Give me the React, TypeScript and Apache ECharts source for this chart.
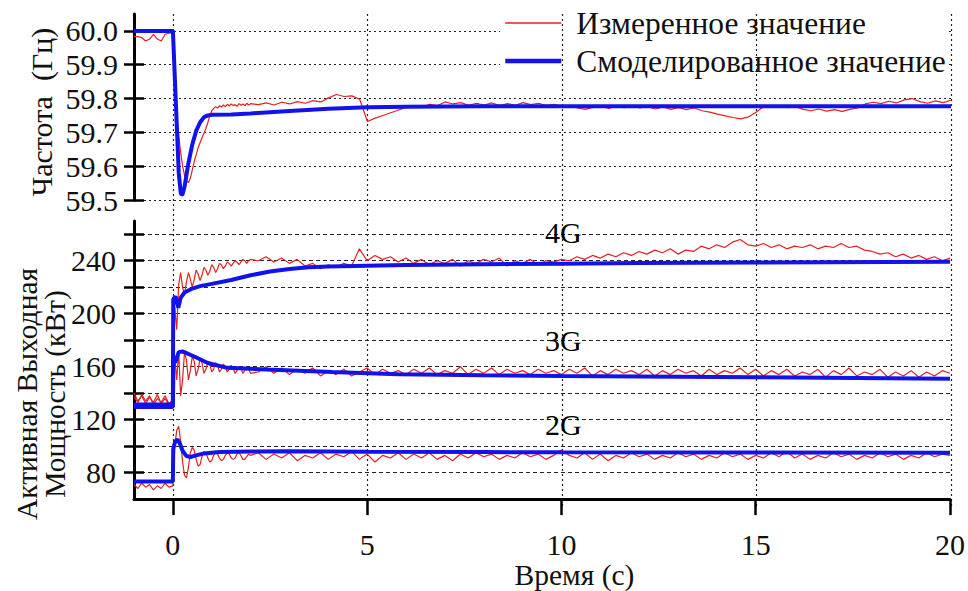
import React, { useEffect, useRef } from "react";
import * as echarts from "echarts";

const FONT = "Liberation Serif";
const RED = "#e3211f";
const BLUE = "#1212ea";
const INK = "#111";

const LEGEND_MEAS = "Измеренное значение";
const LEGEND_SIM = "Смоделированное значение";

const X_TICKS = [0, 5, 10, 15, 20];
const F_TICKS = [59.5, 59.6, 59.7, 59.8, 59.9, 60.0];
const P_TICKS = [80, 100, 120, 140, 160, 180, 200, 220, 240, 260];
const P_LABELS = [80, 120, 160, 200, 240];

// measured sampling instants (s)
const T_MEAS = [
  -1, -0.9, -0.8, -0.7, -0.6, -0.5, -0.4, -0.3, -0.2, -0.1, 0,
  0.05, 0.1, 0.15, 0.2, 0.25, 0.3, 0.35, 0.4, 0.45, 0.5,
  0.55, 0.6, 0.65, 0.7, 0.75, 0.8, 0.85, 0.9, 0.95, 1,
  1.05, 1.1, 1.15, 1.2, 1.25, 1.3, 1.35, 1.4, 1.45, 1.5,
  1.55, 1.6, 1.65, 1.7, 1.75, 1.8, 1.85, 1.9, 1.95, 2,
  2.2, 2.4, 2.6, 2.8, 3, 3.2, 3.4, 3.6, 3.8, 4,
  4.2, 4.4, 4.6, 4.8, 5, 5.2, 5.4, 5.6, 5.8, 6,
  6.2, 6.4, 6.6, 6.8, 7, 7.2, 7.4, 7.6, 7.8, 8,
  8.2, 8.4, 8.6, 8.8, 9, 9.2, 9.4, 9.6, 9.8, 10,
  10.2, 10.4, 10.6, 10.8, 11, 11.2, 11.4, 11.6, 11.8, 12,
  12.2, 12.4, 12.6, 12.8, 13, 13.2, 13.4, 13.6, 13.8, 14,
  14.2, 14.4, 14.6, 14.8, 15, 15.2, 15.4, 15.6, 15.8, 16,
  16.2, 16.4, 16.6, 16.8, 17, 17.2, 17.4, 17.6, 17.8, 18,
  18.2, 18.4, 18.6, 18.8, 19, 19.2, 19.4, 19.6, 19.8, 20,
];

const FREQ_MEAS = [
  59.984, 59.983, 59.98, 59.97, 59.976, 59.99, 59.976, 59.97, 59.99, 59.993, 59.995,
  59.83, 59.75, 59.69, 59.64, 59.6, 59.572, 59.556, 59.552, 59.565, 59.59,
  59.615, 59.635, 59.655, 59.67, 59.685, 59.698, 59.712, 59.73, 59.75, 59.764,
  59.771, 59.776, 59.772, 59.779, 59.775, 59.781, 59.776, 59.783, 59.778, 59.784,
  59.779, 59.782, 59.777, 59.785, 59.78, 59.784, 59.779, 59.786, 59.781, 59.785,
  59.782, 59.787, 59.781, 59.789, 59.784, 59.791, 59.786, 59.794, 59.79, 59.802,
  59.812, 59.806, 59.808, 59.798, 59.732, 59.742, 59.75, 59.758, 59.766, 59.774,
  59.779, 59.775, 59.783, 59.779, 59.79, 59.784, 59.788, 59.78, 59.786, 59.781,
  59.787, 59.779, 59.785, 59.78, 59.788, 59.782, 59.786, 59.779, 59.783, 59.776,
  59.78, 59.772, 59.768, 59.774, 59.778, 59.771, 59.777, 59.773, 59.779, 59.772,
  59.776, 59.769, 59.775, 59.768, 59.773, 59.767, 59.772, 59.764, 59.76, 59.754,
  59.749, 59.744, 59.74, 59.746, 59.76, 59.778, 59.774, 59.779, 59.773, 59.776,
  59.768, 59.764, 59.769, 59.763, 59.767, 59.762, 59.768, 59.772, 59.784, 59.789,
  59.785, 59.792, 59.787, 59.796, 59.8, 59.791, 59.786, 59.793, 59.788, 59.795,
];

const P4_MEAS = [
  140, 134, 138, 132, 137, 133, 139, 132, 136, 131, 134,
  205, 188, 222, 231, 220, 214, 224, 231, 226, 220,
  226, 233, 230, 225, 229, 235, 233, 229, 232, 237,
  235, 231, 234, 238, 237, 234, 236, 239, 238, 236,
  238, 240, 239, 237, 239, 241, 240, 238, 240, 241,
  240, 243, 239, 242, 238, 241, 236, 238, 234, 237,
  235, 238, 236, 249, 240, 244, 241, 243, 239, 242,
  238, 241, 237, 240, 238, 241, 236, 240, 238, 241,
  239, 242, 236, 240, 238, 241, 237, 240, 239, 241,
  240, 243, 241, 244, 242, 245, 243, 246, 244, 247,
  245, 248, 246, 249, 245, 248, 247, 251, 249, 252,
  250, 254, 256, 252, 251, 253, 250, 252, 249, 251,
  250, 252, 249, 251, 250, 253, 250, 251, 248, 247,
  245, 246, 243, 245, 242, 244, 241, 243, 240, 242,
];

const P3_MEAS = [
  137, 133, 139, 134, 138, 131, 136, 133, 138, 132, 135,
  168, 150, 172, 138, 150, 171, 165, 150, 157, 168,
  164, 153, 158, 166, 163, 155, 158, 164, 162, 156,
  158, 163, 161, 156, 158, 162, 160, 156, 158, 161,
  159, 155, 157, 160, 159, 155, 157, 160, 158, 155,
  156, 160, 155, 159, 154, 158, 155, 159, 153, 157,
  154, 158, 153, 156, 159, 154, 158, 155, 157, 154,
  158, 155, 159, 154, 157, 155, 160, 154, 158, 155,
  159, 154, 158, 155, 157, 154, 158, 155, 157, 154,
  158, 155, 159, 153, 157, 154, 158, 155, 157, 154,
  158, 153, 157, 154, 158, 155, 157, 153, 158, 154,
  157, 155, 159, 154, 158, 153, 157, 154, 158, 153,
  156, 154, 158, 152, 157, 154, 159, 153, 156, 154,
  158, 152, 156, 153, 157, 152, 156, 153, 157, 155,
];

const P2_MEAS = [
  71, 68, 72, 69, 71, 67, 70, 68, 72, 69, 70,
  100, 112, 115, 104, 88, 78, 76, 84, 95, 99,
  97, 90, 85, 86, 92, 96, 95, 91, 88, 89,
  93, 95, 94, 91, 89, 90, 93, 95, 94, 91,
  90, 91, 94, 95, 93, 90, 90, 92, 94, 93,
  95, 90, 94, 91, 95, 89, 93, 91, 95, 90,
  94, 92, 96, 90, 94, 88, 93, 91, 95, 90,
  94, 91, 95, 90, 93, 89, 94, 91, 95, 92,
  94, 90, 93, 91, 95, 92, 94, 90, 93, 97,
  93, 91, 95, 90, 94, 89, 93, 91, 95, 92,
  94, 90, 93, 91, 95, 92, 94, 90, 93, 91,
  95, 92, 94, 90, 93, 91, 95, 92, 96, 91,
  94, 90, 93, 91, 95, 92, 94, 90, 93, 91,
  95, 92, 94, 90, 93, 91, 95, 92, 94, 93,
];

// simulated curves
const T_FREQ_SIM = [-1, 0, 0.05, 0.1, 0.15, 0.2, 0.22, 0.25, 0.3, 0.35, 0.4, 0.5, 0.6, 0.7, 0.8, 0.9, 1, 1.5, 2, 3, 4, 5, 6, 8, 10, 15, 20];
const FREQ_SIM = [60, 60, 59.86, 59.72, 59.58, 59.522, 59.515, 59.518, 59.54, 59.575, 59.61, 59.665, 59.705, 59.73, 59.745, 59.75, 59.752, 59.753, 59.756, 59.763, 59.77, 59.774, 59.776, 59.777, 59.777, 59.777, 59.777];

const T_P4_SIM = [-1, 0, 0.01, 0.07, 0.14, 0.2, 0.3, 0.5, 0.7, 1, 1.5, 2, 2.5, 3, 3.5, 4, 5, 6, 8, 10, 12, 15, 20];
const P4_SIM = [131.5, 131.5, 211, 213, 204.5, 212, 216, 219, 220.8, 222.5, 225.5, 229, 231.8, 233.8, 235, 235.6, 236.2, 236.7, 237.3, 237.8, 238.2, 238.7, 239.2];

const T_P3_SIM = [-1, 0, 0.02, 0.06, 0.15, 0.25, 0.55, 0.9, 1.4, 2.4, 4.1, 5.8, 8, 10, 15, 20];
const P3_SIM = [129.5, 129.5, 168, 163, 171, 171.5, 167.7, 162.8, 159.1, 157.9, 156, 154.2, 153.5, 153, 152, 150.8];

const T_P2_SIM = [-1, 0, 0.01, 0.06, 0.12, 0.18, 0.25, 0.35, 0.45, 0.6, 0.8, 1.2, 2, 3, 5, 8, 10, 15, 20];
const P2_SIM = [73.3, 73.3, 98, 103.5, 105, 102, 96.5, 92.5, 91.8, 93, 94.5, 95.5, 96, 96.2, 95.8, 95.5, 95.3, 95.1, 95];

const UNIT_LABELS = ["4G", "3G", "2G"];
const UNIT_LABEL_X = [10.05, 10.05, 10.05];
const UNIT_LABEL_Y = [261, 180, 116];

const zip = (t: number[], v: number[]) => t.map((x, i) => [x, v[i]]);

function buildOption() {
  const axisText = { fontSize: 30, fontFamily: FONT, color: INK };
  const measLine = (name: string, xi: number, yi: number, t: number[], v: number[]) => ({
    type: "line", name, xAxisIndex: xi, yAxisIndex: yi, data: zip(t, v),
    symbol: "none", showSymbol: false, z: 3,
    lineStyle: { color: RED, width: 1.2 }, itemStyle: { color: RED },
  });
  const simLine = (name: string, xi: number, yi: number, t: number[], v: number[]) => ({
    type: "line", name, xAxisIndex: xi, yAxisIndex: yi, data: zip(t, v),
    symbol: "none", showSymbol: false, z: 4,
    lineStyle: { color: BLUE, width: 4 }, itemStyle: { color: BLUE },
  });
  return {
    animation: false,
    backgroundColor: "#fff",
    textStyle: { fontFamily: FONT, color: INK },
    grid: [
      { left: 134, right: 17, top: 14, height: 186 },
      { left: 134, right: 17, top: 221, height: 285 },
      { left: 134, right: 17, top: 14, height: 492 },
    ],
    legend: {
      data: [
        { name: LEGEND_MEAS, lineStyle: { width: 1.5, color: RED } },
        { name: LEGEND_SIM, lineStyle: { width: 4.5, color: BLUE } },
      ],
      orient: "vertical", left: 503, top: 7, padding: 0,
      itemWidth: 56, itemHeight: 31, itemGap: 6, selectedMode: false,
      itemStyle: { opacity: 0 },
      textStyle: { fontSize: 31.5, fontFamily: FONT, color: INK, padding: [0, 0, 0, 10] },
      z: 6,
    },
    xAxis: [
      { gridIndex: 0, type: "value", min: -1, max: 20, show: false },
      {
        gridIndex: 1, type: "value", min: -1, max: 20, z: 2,
        axisLine: { show: true, onZero: false, lineStyle: { color: "#000", width: 3 } },
        axisTick: { show: true, inside: false, length: 16, customValues: X_TICKS, lineStyle: { color: "#000", width: 2.5 } },
        axisLabel: { ...axisText, margin: 30, customValues: X_TICKS },
        splitLine: { show: false },
        name: "Время (с)", nameLocation: "middle", nameGap: 60,
        nameTextStyle: { fontSize: 29.5, fontFamily: FONT, color: INK, padding: [0, 0, 0, 65] },
      },
      {
        gridIndex: 2, type: "value", min: -1, max: 20, z: 2,
        axisLine: { show: false }, axisTick: { show: false, customValues: X_TICKS }, axisLabel: { show: false, customValues: X_TICKS },
        splitLine: { show: true, lineStyle: { type: [2, 3], color: "#222", width: 1.2 } },
      },
    ],
    yAxis: [
      {
        gridIndex: 0, type: "value", min: 59.5, max: 60.05, position: "left", z: 0,
        axisLine: { show: true, onZero: false, lineStyle: { color: "#000", width: 3 } },
        axisTick: { show: true, inside: false, length: 10, customValues: F_TICKS, lineStyle: { color: "#000", width: 2.5 } },
        axisLabel: { ...axisText, margin: 16, customValues: F_TICKS, formatter: (v: number) => v.toFixed(1) },
        splitLine: { show: true, lineStyle: { type: [2, 3], color: "#222", width: 1.2 } },
      },
      {
        gridIndex: 1, type: "value", min: 60, max: 270, position: "left", z: 0,
        axisLine: { show: true, onZero: false, lineStyle: { color: "#000", width: 3 } },
        axisTick: { show: true, inside: false, length: 10, customValues: P_TICKS, lineStyle: { color: "#000", width: 2.5 } },
        axisLabel: { ...axisText, margin: 18, customValues: P_LABELS },
        splitLine: { show: true, lineStyle: { type: [4, 3], color: "#222", width: 1.2 } },
      },
      { gridIndex: 2, type: "value", min: 0, max: 1, show: false },
      {
        gridIndex: 0, type: "value", min: 59.5, max: 60.05, position: "left", z: 0,
        axisLine: { show: false, onZero: false },
        axisTick: { show: true, inside: true, length: 10, customValues: F_TICKS, lineStyle: { color: "#000", width: 2.5 } },
        axisLabel: { show: false }, splitLine: { show: false },
      },
      {
        gridIndex: 1, type: "value", min: 60, max: 270, position: "left", z: 0,
        axisLine: { show: false, onZero: false },
        axisTick: { show: true, inside: true, length: 10, customValues: P_TICKS, lineStyle: { color: "#000", width: 2.5 } },
        axisLabel: { show: false }, splitLine: { show: false },
      },
    ],
    graphic: [
      { type: "rect", shape: { x: 500, y: 6, width: 448, height: 72 }, style: { fill: "#fff" }, z: 1, silent: true },
      {
        type: "text", x: 41, y: 112, rotation: Math.PI / 2, z: 5,
        style: { text: "Частота  (Гц)", fontSize: 30, fontFamily: FONT, fill: INK, align: "center", verticalAlign: "middle" },
      },
      {
        type: "text", x: 41, y: 394, rotation: Math.PI / 2, z: 5,
        style: { text: "Активная Выходная\nМощность (кВт)", fontSize: 29.5, lineHeight: 28, fontFamily: FONT, fill: INK, align: "center", verticalAlign: "middle" },
      },
    ],
    series: [
      measLine(LEGEND_MEAS, 0, 0, T_MEAS, FREQ_MEAS),
      simLine(LEGEND_SIM, 0, 0, T_FREQ_SIM, FREQ_SIM),
      measLine(LEGEND_MEAS, 1, 1, T_MEAS, P4_MEAS),
      measLine(LEGEND_MEAS, 1, 1, T_MEAS, P3_MEAS),
      measLine(LEGEND_MEAS, 1, 1, T_MEAS, P2_MEAS),
      simLine(LEGEND_SIM, 1, 1, T_P4_SIM, P4_SIM),
      simLine(LEGEND_SIM, 1, 1, T_P3_SIM, P3_SIM),
      simLine(LEGEND_SIM, 1, 1, T_P2_SIM, P2_SIM),
      {
        type: "scatter", name: "units", xAxisIndex: 1, yAxisIndex: 1, z: 5,
        symbolSize: 0, itemStyle: { color: "#000" },
        data: UNIT_LABELS.map((n, i) => ({ name: n, value: [UNIT_LABEL_X[i], UNIT_LABEL_Y[i]] })),
        label: {
          show: true, position: "inside", formatter: "{b}", fontSize: 30, fontFamily: FONT,
          color: "#000", textBorderWidth: 0, opacity: 1,
        },
      },
    ],
  };
}

export default function App() {
  const ref = useRef<HTMLDivElement>(null);
  useEffect(() => {
    const chart = echarts.init(ref.current!, null, { renderer: "svg" });
    chart.setOption(buildOption() as any);
    return () => chart.dispose();
  }, []);
  return <div ref={ref} style={{ position: "fixed", left: 0, top: 0, width: 968, height: 591 }} />;
}
